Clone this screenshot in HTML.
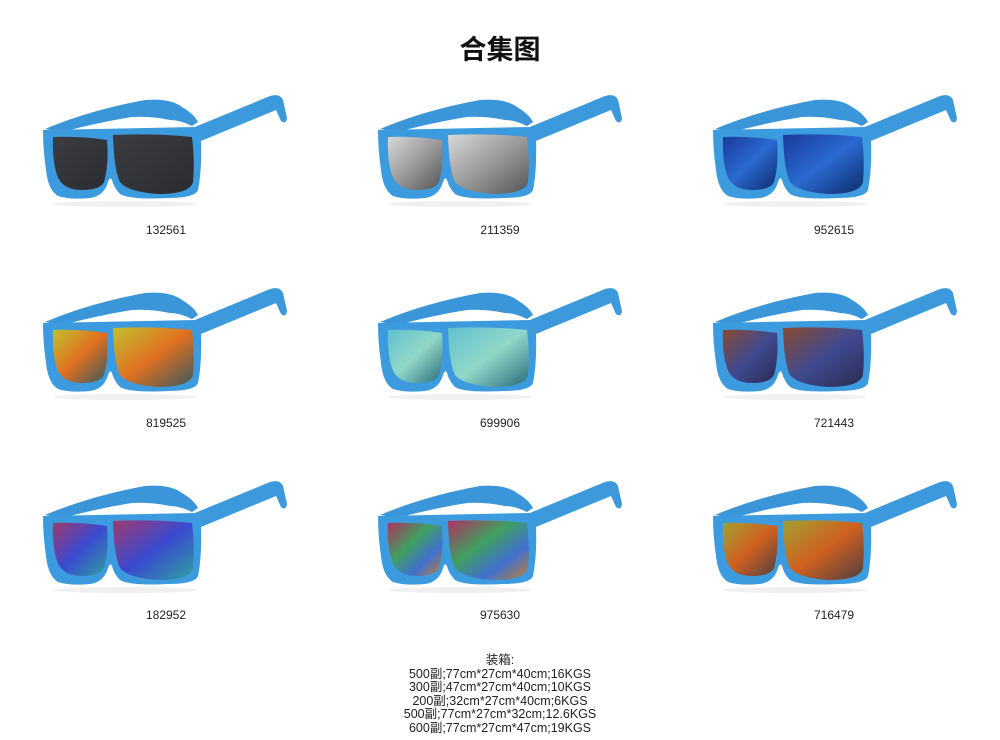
<!DOCTYPE html>
<html><head><meta charset="utf-8"><style>
body{margin:0;background:#fff;width:1000px;height:740px;overflow:hidden;font-family:"Liberation Sans","Noto Sans CJK SC",sans-serif}
.t{position:absolute;left:0;width:1000px;text-align:center;top:28px;font-size:27px;font-weight:bold;color:#111}
.l{position:absolute;width:200px;text-align:center;font-size:12px;color:#222}
.p{position:absolute;left:0;width:1000px;top:654px;text-align:center;font-size:12.5px;line-height:13.6px;color:#222}
svg{position:absolute;left:0;top:0}
</style></head><body>
<div class="t">合集图</div>
<svg width="1000" height="740">
<defs>
<linearGradient id="g0" x1="0" y1="0" x2="1" y2="1"><stop offset="0" stop-color="#3c3d42"/><stop offset="1" stop-color="#2b2c30"/></linearGradient>
<linearGradient id="g1" x1="0" y1="0" x2="1" y2="1"><stop offset="0" stop-color="#d8d8d8"/><stop offset=".5" stop-color="#9a9a9a"/><stop offset="1" stop-color="#555"/></linearGradient>
<linearGradient id="g2" x1="0" y1="0" x2="1" y2="1"><stop offset="0" stop-color="#1a3a9a"/><stop offset=".5" stop-color="#2a6ad0"/><stop offset="1" stop-color="#0e2a6a"/></linearGradient>
<linearGradient id="g3" x1="0" y1="0" x2="1" y2="1"><stop offset="0" stop-color="#c0c030"/><stop offset=".5" stop-color="#e07020"/><stop offset="1" stop-color="#3a5a60"/></linearGradient>
<linearGradient id="g4" x1="0" y1="0" x2="1" y2="1"><stop offset="0" stop-color="#60c0d0"/><stop offset=".5" stop-color="#90d8c8"/><stop offset="1" stop-color="#2a6a7a"/></linearGradient>
<linearGradient id="g5" x1="0" y1="0" x2="1" y2="1"><stop offset="0" stop-color="#8a4a30"/><stop offset=".5" stop-color="#404a90"/><stop offset="1" stop-color="#2a2a50"/></linearGradient>
<linearGradient id="g6" x1="0" y1="0" x2="1" y2="1"><stop offset="0" stop-color="#a03a70"/><stop offset=".5" stop-color="#3a4ad0"/><stop offset="1" stop-color="#30a0a0"/></linearGradient>
<linearGradient id="g7" x1="0" y1="0" x2="1" y2="1"><stop offset="0" stop-color="#b03060"/><stop offset=".4" stop-color="#40a060"/><stop offset=".7" stop-color="#4070d0"/><stop offset="1" stop-color="#c08030"/></linearGradient>
<linearGradient id="g8" x1="0" y1="0" x2="1" y2="1"><stop offset="0" stop-color="#a0a030"/><stop offset=".5" stop-color="#d06020"/><stop offset="1" stop-color="#504040"/></linearGradient>
<g id="fr">
<path d="M15,39 Q60,20 115,10 Q140,8 152,17 Q164,24 168,32 L162,36 Q150,30 140,30 Q120,26 102,27 Q70,32 32,42 Z" fill="#3a96d8"/>
<path d="M160,39 L240,6 Q250,3 253,10 L257,28 Q256,35 251,31 L246,20 L166,53 Z" fill="#3b99dc"/>
<path d="M13,40 L165,37 Q172,40 171,50 Q172,80 168,100 Q165,108 138,108 Q100,110 90,104 Q84,98 82,90 Q80,86 78,92 Q74,106 60,108 Q40,110 28,106 Q18,100 16,80 Q13,60 13,40 Z" fill="#3c9bde"/>
</g>
</defs>
<g id="items"></g>
</svg>
<script>
var s='',k=0;
for(var r=0;r<3;r++)for(var c=0;c<3;c++){
var x=30+c*335,y=90+r*193;
s+='<g transform="translate('+x+','+y+')"><ellipse cx="95" cy="114" rx="72" ry="3" fill="#f0f0f0"/><use href="#fr"/>'+
'<path d="M23,47 Q50,46 77,50 Q79,75 74,92 Q70,100 52,100 Q32,100 27,85 Q22,70 23,47 Z" fill="url(#g'+k+')"/>'+
'<path d="M83,45 Q125,43 162,47 Q165,70 163,92 Q160,104 128,104 Q98,102 90,92 Q84,80 83,45 Z" fill="url(#g'+k+')"/></g>';k++;}
document.getElementById('items').innerHTML=s;
</script>
<div class="l" style="left:66px;top:223px">132561</div>
<div class="l" style="left:400px;top:223px">211359</div>
<div class="l" style="left:734px;top:223px">952615</div>
<div class="l" style="left:66px;top:416px">819525</div>
<div class="l" style="left:400px;top:416px">699906</div>
<div class="l" style="left:734px;top:416px">721443</div>
<div class="l" style="left:66px;top:608px">182952</div>
<div class="l" style="left:400px;top:608px">975630</div>
<div class="l" style="left:734px;top:608px">716479</div>
<div class="p">装箱:<br>500副;77cm*27cm*40cm;16KGS<br>300副;47cm*27cm*40cm;10KGS<br>200副;32cm*27cm*40cm;6KGS<br>500副;77cm*27cm*32cm;12.6KGS<br>600副;77cm*27cm*47cm;19KGS</div>
</body></html>
